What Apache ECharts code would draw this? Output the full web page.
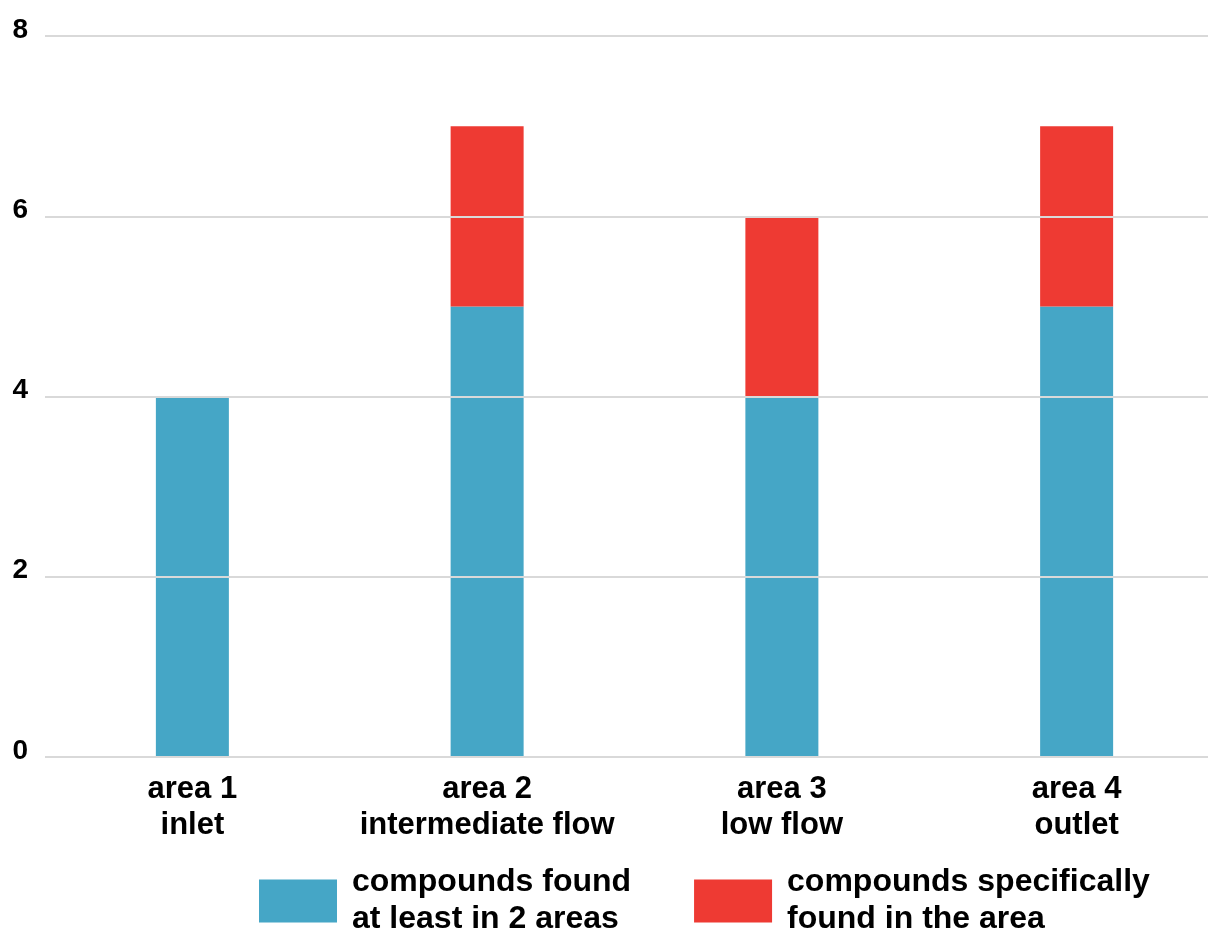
<!DOCTYPE html>
<html>
<head>
<meta charset="utf-8">
<script src="https://cdn.jsdelivr.net/npm/echarts@6/dist/echarts.min.js"></script>
<style>
  html, body { margin: 0; padding: 0; background: #fff; overflow: hidden; }
  #chart { width: 1224px; height: 931px; }
</style>
</head>
<body>
<div id="chart"></div>
<script>
// categories on the x axis
const areas = ['area 1\ninlet', 'area 2\nintermediate flow', 'area 3\nlow flow', 'area 4\noutlet']
// series values
const sharedCompounds = [4, 5, 4, 5]
const specificCompounds = [0, 2, 2, 2]
const seriesNames = ['compounds found\nat least in 2 areas', 'compounds specifically\nfound in the area']
const barColors = ['#45a6c6', '#ee3a33']

const chart = echarts.init(document.getElementById('chart'))
const font = 'Liberation Sans, Arial, sans-serif'

chart.setOption({
    animation: false,
    textStyle: { fontFamily: font },
    grid: {
        left: 45,
        right: 0,
        top: 36,
        bottom: 174,
        containLabel: false
    },
    legend: {
        left: 254,
        top: 859,
        itemWidth: 78,
        itemHeight: 43,
        itemGap: 63,
        icon: 'rect',
        data: seriesNames,
        textStyle: {
            fontFamily: font,
            fontWeight: 'bold',
            fontSize: 32,
            lineHeight: 37,
            color: '#000',
            padding: [0, 0, 0, 10]
        }
    },
    xAxis: {
        type: 'category',
        data: areas,
        axisLine: { show: false },
        axisTick: { show: false },
        axisLabel: {
            interval: 0,
            color: '#000',
            fontWeight: 'bold',
            fontSize: 31,
            lineHeight: 36,
            margin: 14,
            fontFamily: font
        }
    },
    yAxis: {
        type: 'value',
        min: 0,
        max: 8,
        interval: 2,
        z: 5, // 网格线画在柱子上面
        axisLine: { show: false },
        axisTick: { show: false },
        splitLine: { lineStyle: { color: '#d9d9d9', width: 2 } },
        axisLabel: {
            color: '#000',
            fontWeight: 'bold',
            fontSize: 28,
            margin: 17,
            verticalAlign: 'bottom',
            lineHeight: 12,
            fontFamily: font
        }
    },
    series: [
        {
            name: seriesNames[0],
            type: 'bar',
            stack: 'total',
            barWidth: 73,
            data: sharedCompounds,
            itemStyle: { color: barColors[0] }
        },
        {
            name: seriesNames[1],
            type: 'bar',
            stack: 'total',
            barWidth: 73,
            data: specificCompounds,
            itemStyle: { color: barColors[1] }
        }
    ]
})
</script>
</body>
</html>
